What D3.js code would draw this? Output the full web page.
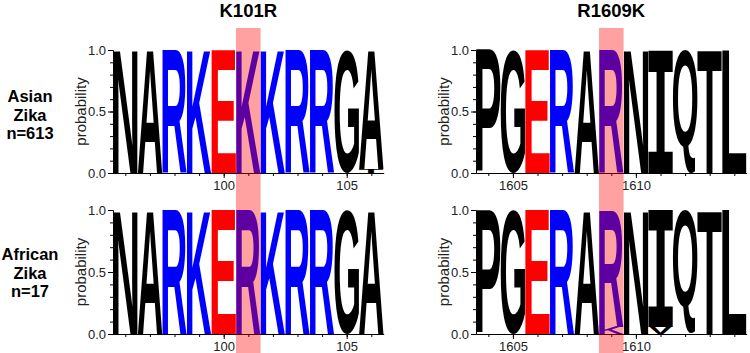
<!DOCTYPE html>
<html>
<head>
<meta charset="utf-8">
<script src="https://cdn.jsdelivr.net/npm/d3@7/dist/d3.min.js"></script>
<style>
  body { margin: 0; background: #fff; }
  text { font-family: "Liberation Sans", Arial, Helvetica, sans-serif; }
</style>
</head>
<body>
<svg width="750" height="353"></svg>
<script>
// K101R window (positions 96-106)
var k101Pos = [96, 97, 98, 99, 100, 101, 102, 103, 104, 105, 106];
var k101Asian = [
  [["N", 1]], [["A", 1]], [["R", 1]], [["K", 1]], [["E", 1]], [["K", 1]],
  [["K", 1]], [["R", 1]], [["R", 1]], [["G", 1]], [["A", 0.97], ["T", 0.03]]
];
var k101African = [
  [["N", 1]], [["A", 1]], [["R", 1]], [["K", 1]], [["E", 1]], [["R", 1]],
  [["K", 1]], [["R", 1]], [["R", 1]], [["G", 1]], [["A", 1]]
];
// R1609K window (positions 1604-1614)
var r1609Pos = [1604, 1605, 1606, 1607, 1608, 1609, 1610, 1611, 1612, 1613, 1614];
var r1609Asian = [
  [["P", 1]], [["G", 1]], [["E", 1]], [["R", 1]], [["A", 1]], [["R", 1]],
  [["N", 1]], [["I", 1]], [["Q", 1]], [["T", 1]], [["L", 1]]
];
var r1609African = [
  [["P", 1]], [["G", 1]], [["E", 1]], [["R", 1]], [["A", 1]], [["R", 0.94], ["K", 0.06]],
  [["N", 1]], [["I", 0.94], ["V", 0.06]], [["Q", 1]], [["T", 1]], [["L", 1]]
];
var k101Ticks = [100, 105];
var r1609Ticks = [1605, 1610];
var yTicks = [0, 0.5, 1];
var titles = ["K101R", "R1609K"];
var sites = [101, 1609];
var rowLabels = [["Asian", "Zika", "n=613"], ["African", "Zika", "n=17"]];

var colors = { R: "#0000ff", K: "#0000ff", E: "#ff0000" };

var svg = d3.select("svg");
var ctx = document.createElement("canvas").getContext("2d");

function letterFont(ch) {
  // the logo's I has serifs, use a mono face for it
  return ch == "I" ? "DejaVu Sans Mono" : "Liberation Sans";
}

function drawLetter(g, ch, x0, x1, yTop, yBot) {
  var fam = letterFont(ch);
  ctx.font = "bold 100px '" + fam + "'";
  var m = ctx.measureText(ch);
  var L = m.actualBoundingBoxLeft, R = m.actualBoundingBoxRight;
  var A = m.actualBoundingBoxAscent, D = m.actualBoundingBoxDescent;
  var sx = (x1 - x0) / (L + R), sy = (yBot - yTop) / (A + D);
  g.append("text")
    .attr("transform", "translate(" + (x0 + L * sx) + "," + (yTop + A * sy) + ") scale(" + sx + "," + sy + ")")
    .style("font-family", "'" + fam + "'")
    .style("font-weight", "bold")
    .style("font-size", "100px")
    .attr("fill", colors[ch] || "#000")
    .text(ch);
}

function drawPanel(pos, data, ticks, x0, yTop, yBot) {
  var x = d3.scaleLinear()
    .domain([pos[0] - 0.5, pos[pos.length - 1] + 0.5])
    .range([x0, x0 + 270.6]);
  var y = d3.scaleLinear().domain([0, 1]).range([yBot, yTop]);
  var g = svg.append("g");

  data.forEach(function(stack, i) {
    var sorted = stack.slice().sort(function(a, b) { return a[1] - b[1]; });
    var cum = 0;
    sorted.forEach(function(d) {
      drawLetter(g, d[0], x(pos[i] - 0.5), x(pos[i] + 0.5), y(cum + d[1]), y(cum));
      cum += d[1];
    });
  });

  // y axis, minor then major
  g.append("g").attr("transform", "translate(" + x0 + ",0)")
    .call(d3.axisLeft(y).tickValues(d3.range(0, 1.01, 0.1)).tickSize(3).tickSizeOuter(0))
    .call(function(a) { a.selectAll("text").remove(); });
  g.append("g").attr("transform", "translate(" + x0 + ",0)")
    .call(d3.axisLeft(y).tickValues(yTicks).tickFormat(d3.format(".1f")).tickSize(5).tickSizeOuter(0).tickPadding(2))
    .call(function(a) { a.selectAll("text").style("font-size", "13px").attr("fill", "#222"); });

  // x axis
  g.append("g").attr("transform", "translate(0," + yBot + ")")
    .call(d3.axisBottom(x).tickValues(pos).tickSize(3).tickSizeOuter(0))
    .call(function(a) { a.selectAll("text").remove(); });
  g.append("g").attr("transform", "translate(0," + yBot + ")")
    .call(d3.axisBottom(x).tickValues(ticks).tickFormat(d3.format("d")).tickSize(5).tickSizeOuter(0).tickPadding(3))
    .call(function(a) { a.selectAll("text").style("font-size", "13px").attr("fill", "#222"); });

  g.append("text")
    .attr("transform", "translate(" + (x0 - 32) + "," + ((yTop + yBot) / 2) + ")rotate(-90)")
    .attr("text-anchor", "middle")
    .attr("dy", "0.35em")
    .style("font-size", "15px")
    .attr("fill", "#222")
    .text("probability");
  return x;
}

var xa = drawPanel(k101Pos, k101Asian, k101Ticks, 113, 50, 173);
drawPanel(k101Pos, k101African, k101Ticks, 113, 210, 334);
var xb = drawPanel(r1609Pos, r1609Asian, r1609Ticks, 476, 50, 173);
drawPanel(r1609Pos, r1609African, r1609Ticks, 476, 210, 334);

// highlighted mutation columns
[xa, xb].forEach(function(x, i) {
  svg.append("rect")
    .attr("x", x(sites[i] - 0.5))
    .attr("y", 28)
    .attr("width", x(sites[i] + 0.5) - x(sites[i] - 0.5))
    .attr("height", 325)
    .attr("fill", "#ff0000")
    .attr("opacity", 0.37);
  svg.append("text")
    .attr("x", x(sites[i]))
    .attr("y", 17)
    .attr("text-anchor", "middle")
    .style("font-size", "18.5px")
    .style("font-weight", "bold")
    .text(titles[i]);
});

// row labels
rowLabels.forEach(function(lines, r) {
  var t = svg.append("text")
    .attr("text-anchor", "middle")
    .style("font-size", "16.5px")
    .style("font-weight", "bold");
  lines.forEach(function(s, k) {
    t.append("tspan").attr("x", 30).attr("y", [102, 260][r] + k * 18.5).text(s);
  });
});
</script>
</body>
</html>
